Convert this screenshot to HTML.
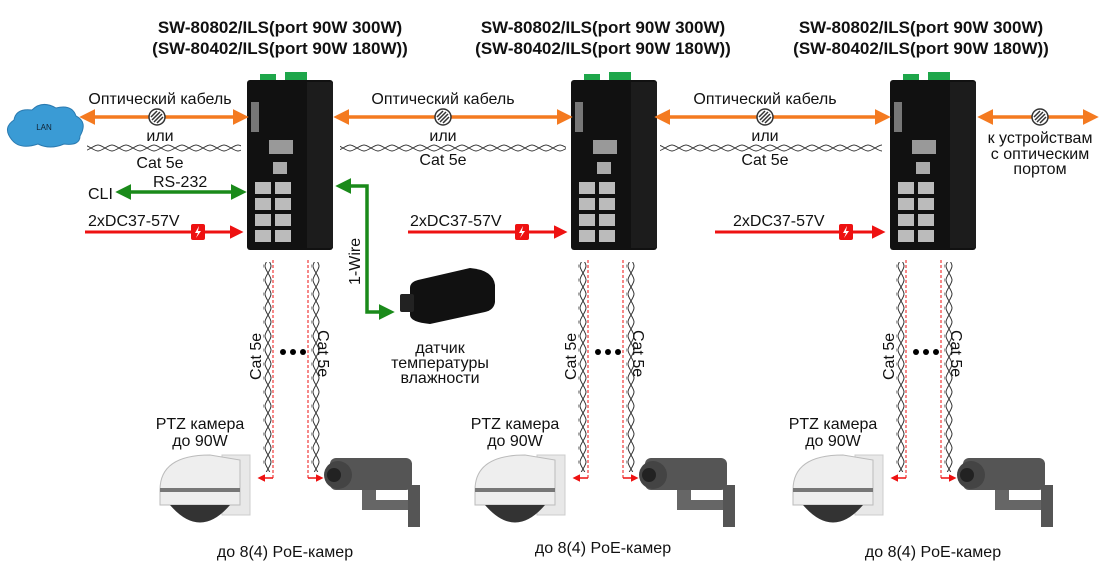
<!DOCTYPE html>
<html><head><meta charset="utf-8"><style>
html,body{margin:0;padding:0;background:#fff;}
svg{display:block;font-family:"Liberation Sans",Arial,sans-serif;}
</style></head><body>
<svg width="1100" height="579" viewBox="0 0 1100 579" xmlns="http://www.w3.org/2000/svg">
<defs>
<pattern id="tw" width="14" height="8" patternUnits="userSpaceOnUse">
<path d="M0,1 C4,1 10,7 14,7 M0,7 C4,7 10,1 14,1" fill="none" stroke="#333" stroke-width="1"/>
</pattern>
<pattern id="twv" width="8" height="14" patternUnits="userSpaceOnUse">
<path d="M1,0 C1,4 7,10 7,14 M7,0 C7,4 1,10 1,14" fill="none" stroke="#333" stroke-width="1"/>
</pattern>
<marker id="ao" markerWidth="4.5" markerHeight="4.5" refX="2" refY="2.25" orient="auto-start-reverse"><path d="M0,0 L4.5,2.25 L0,4.5z" fill="#f47a20"/></marker>
<marker id="ag" markerWidth="4.5" markerHeight="4.5" refX="2" refY="2.25" orient="auto-start-reverse"><path d="M0,0 L4.5,2.25 L0,4.5z" fill="#1a8a1a"/></marker>
<marker id="ar" markerWidth="4.5" markerHeight="4.5" refX="2" refY="2.25" orient="auto"><path d="M0,0 L4.5,2.25 L0,4.5z" fill="#e11"/></marker>
<marker id="ad" markerWidth="5" markerHeight="5" refX="2" refY="2.5" orient="auto-start-reverse"><path d="M0,0 L5,2.5 L0,5z" fill="#e11"/></marker>
<g id="circ"><circle r="8" fill="#fff" stroke="#333" stroke-width="1.5"/><path d="M-5,3 L3,-5 M-3,5 L5,-3 M-6,0 L0,-6 M0,6 L6,0" stroke="#333" stroke-width="1.5"/></g>
<g id="bolt"><rect x="-7" y="-8" width="14" height="16" rx="2" fill="#e11"/><path d="M1,-6 L-3,1 L0,1 L-2,6 L3,-1 L0,-1z" fill="#fff"/></g>
<g id="sw">
<rect x="13" y="-6" width="16" height="18" fill="#1ea64a"/><rect x="38" y="-8" width="22" height="18" fill="#1ea64a"/>
<rect x="0" y="0" width="86" height="170" rx="3" fill="#111"/>
<rect x="60" y="2" width="26" height="166" fill="#1c1c1c"/>
<rect x="4" y="22" width="8" height="30" fill="#777"/>
<rect x="22" y="60" width="24" height="14" fill="#999"/><rect x="26" y="82" width="14" height="12" fill="#aaa"/>
<g fill="#bbb"><rect x="8" y="102" width="16" height="12"/><rect x="28" y="102" width="16" height="12"/><rect x="8" y="118" width="16" height="12"/><rect x="28" y="118" width="16" height="12"/><rect x="8" y="134" width="16" height="12"/><rect x="28" y="134" width="16" height="12"/><rect x="8" y="150" width="16" height="12"/><rect x="28" y="150" width="16" height="12"/></g>
</g>
<g id="col">
<rect x="263" y="262" width="9" height="210" fill="url(#twv)"/>
<rect x="311" y="262" width="9" height="210" fill="url(#twv)"/>
<line x1="273" y1="260" x2="273" y2="478" stroke="#e11" stroke-dasharray="3,2"/>
<line x1="273" y1="478" x2="262" y2="478" stroke="#e11" stroke-width="1.5" marker-end="url(#ad)"/>
<line x1="308" y1="260" x2="308" y2="478" stroke="#e11" stroke-dasharray="3,2"/>
<line x1="308" y1="478" x2="319" y2="478" stroke="#e11" stroke-width="1.5" marker-end="url(#ad)"/>
<circle cx="283" cy="352" r="3"/><circle cx="293" cy="352" r="3"/><circle cx="303" cy="352" r="3"/>
<rect x="222" y="455" width="28" height="60" fill="#e8e8e8" stroke="#ccc"/>
<path d="M160,490 Q160,455 210,455 L240,460 L240,505 L160,505z" fill="#eee" stroke="#bbb"/>
<rect x="160" y="488" width="80" height="4" fill="#777"/>
<path d="M170,505 Q200,540 230,505z" fill="#333"/>
<rect x="330" y="458" width="82" height="32" rx="6" fill="#555"/>
<circle cx="338" cy="475" r="14" fill="#444"/><circle cx="334" cy="475" r="7" fill="#222"/>
<rect x="362" y="490" width="14" height="20" fill="#666"/><rect x="372" y="500" width="40" height="10" fill="#666"/><rect x="408" y="485" width="12" height="42" fill="#555"/>
</g>
</defs>

<g font-weight="bold" font-size="17" text-anchor="middle" fill="#111">
<text x="280" y="33">SW-80802/ILS(port 90W 300W)</text><text x="280" y="54">(SW-80402/ILS(port 90W 180W))</text>
<text x="603" y="33">SW-80802/ILS(port 90W 300W)</text><text x="603" y="54">(SW-80402/ILS(port 90W 180W))</text>
<text x="921" y="33">SW-80802/ILS(port 90W 300W)</text><text x="921" y="54">(SW-80402/ILS(port 90W 180W))</text>
</g>

<use href="#col"/><use href="#col" x="315"/><use href="#col" x="633"/>
<use href="#sw" x="247" y="80"/><use href="#sw" x="571" y="80"/><use href="#sw" x="890" y="80"/>

<path d="M12,140 Q2,128 14,120 Q16,108 32,110 Q42,100 56,108 Q72,104 76,116 Q88,122 80,136 Q80,146 64,144 Q50,150 38,144 Q20,150 12,140z" fill="#3a9bd5" stroke="#2a7ab0"/>
<text x="44" y="130" font-size="8" text-anchor="middle" fill="#123">LAN</text>

<g stroke="#f47a20" stroke-width="3.5" fill="none">
<line x1="88" y1="117" x2="240" y2="117" marker-start="url(#ao)" marker-end="url(#ao)"/>
<line x1="342" y1="117" x2="564" y2="117" marker-start="url(#ao)" marker-end="url(#ao)"/>
<line x1="663" y1="117" x2="882" y2="117" marker-start="url(#ao)" marker-end="url(#ao)"/>
<line x1="986" y1="117" x2="1090" y2="117" marker-start="url(#ao)" marker-end="url(#ao)"/>
</g>
<use href="#circ" x="157" y="117"/><use href="#circ" x="443" y="117"/><use href="#circ" x="765" y="117"/><use href="#circ" x="1040" y="117"/>

<rect x="87" y="144" width="154" height="8" fill="url(#tw)"/>
<rect x="340" y="144" width="226" height="8" fill="url(#tw)"/>
<rect x="660" y="144" width="222" height="8" fill="url(#tw)"/>

<g font-size="16" text-anchor="middle" fill="#111">
<text x="160" y="104">Оптический кабель</text><text x="160" y="141">или</text><text x="160" y="168">Cat 5e</text>
<text x="443" y="104">Оптический кабель</text><text x="443" y="141">или</text><text x="443" y="165">Cat 5e</text>
<text x="765" y="104">Оптический кабель</text><text x="765" y="141">или</text><text x="765" y="165">Cat 5e</text>
<text x="1040" y="143">к устройствам</text><text x="1040" y="159">с оптическим</text><text x="1040" y="174">портом</text>
<text x="440" y="353">датчик</text><text x="440" y="368">температуры</text><text x="440" y="383">влажности</text>
<text x="200" y="429">PTZ камера</text><text x="200" y="446">до 90W</text>
<text x="515" y="429">PTZ камера</text><text x="515" y="446">до 90W</text>
<text x="833" y="429">PTZ камера</text><text x="833" y="446">до 90W</text>
<text x="285" y="557">до 8(4) PoE-камер</text><text x="603" y="553">до 8(4) PoE-камер</text><text x="933" y="557">до 8(4) PoE-камер</text>
</g>
<g font-size="16" fill="#111">
<text x="88" y="199">CLI</text><text x="153" y="187">RS-232</text>
<text x="88" y="226">2xDC37-57V</text><text x="410" y="226">2xDC37-57V</text><text x="733" y="226">2xDC37-57V</text>
<text transform="translate(261,380) rotate(-90)">Cat 5e</text>
<text transform="translate(318,330) rotate(90)">Cat 5e</text>
<text transform="translate(576,380) rotate(-90)">Cat 5e</text>
<text transform="translate(633,330) rotate(90)">Cat 5e</text>
<text transform="translate(894,380) rotate(-90)">Cat 5e</text>
<text transform="translate(951,330) rotate(90)">Cat 5e</text>
<text transform="translate(360,285) rotate(-90)">1-Wire</text>
</g>

<g stroke="#1a8a1a" stroke-width="3.5" fill="none">
<line x1="124" y1="192" x2="238" y2="192" marker-start="url(#ag)" marker-end="url(#ag)"/>
<polyline points="344,186 367,186 367,312 386,312" marker-start="url(#ag)" marker-end="url(#ag)"/>
</g>
<path d="M410,288 Q410,282 418,280 L470,268 Q493,270 495,285 L495,302 Q494,310 485,312 L430,324 Q410,322 410,315z" fill="#111"/>
<rect x="400" y="294" width="14" height="18" rx="2" fill="#222"/>

<g stroke="#e11" stroke-width="3" fill="none">
<line x1="85" y1="232" x2="236" y2="232" marker-end="url(#ar)"/>
<line x1="408" y1="232" x2="560" y2="232" marker-end="url(#ar)"/>
<line x1="715" y1="232" x2="878" y2="232" marker-end="url(#ar)"/>
</g>
<use href="#bolt" x="198" y="232"/><use href="#bolt" x="522" y="232"/><use href="#bolt" x="846" y="232"/>
</svg>
</body></html>
